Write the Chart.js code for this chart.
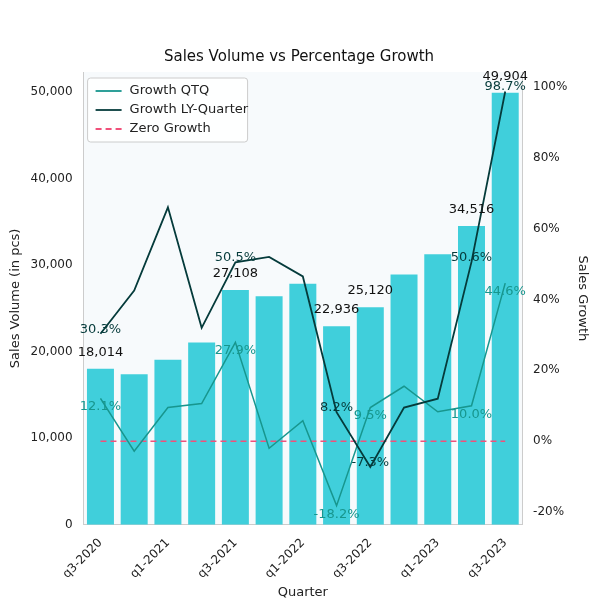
<!DOCTYPE html>
<html>
<head>
<script src="https://cdn.jsdelivr.net/npm/chart.js@4"></script>
<style>
  body { margin: 0; background: #fff; }
  #wrap { width: 600px; height: 600px; }
</style>
</head>
<body>
<div id="wrap"><canvas id="c"></canvas></div>
<script>
const quarters = ['q3-2020','q4-2020','q1-2021','q2-2021','q3-2021','q4-2021','q1-2022','q2-2022','q3-2022','q4-2022','q1-2023','q2-2023','q3-2023'];
const salesVolume = [18014, 17400, 19050, 21050, 27108, 26400, 27850, 22936, 25120, 28900, 31250, 34516, 49904];
const growthQtq = [12.1, -2.8, 9.5, 10.6, 27.9, -2.0, 5.8, -18.2, 9.5, 15.5, 8.3, 10.0, 44.6];
const growthLy = [30.3, 42.5, 66.0, 32.0, 50.5, 52.0, 46.5, 8.2, -7.3, 9.5, 12.0, 50.6, 98.7];
const labelled = [0, 4, 7, 8, 11, 12];

const font = "'DejaVu Sans', sans-serif";
Chart.defaults.font.family = font;
Chart.defaults.color = '#222';

// plot background + value labels
const extras = {
    id: 'extras',
    beforeDraw(chart) {
        const a = chart.chartArea, ctx = chart.ctx;
        ctx.save();
        ctx.fillStyle = '#f7fafc';
        ctx.fillRect(a.left, a.top, a.right - a.left, a.bottom - a.top);
        ctx.restore();
    },
    afterDatasetsDraw(chart) {
        const ctx = chart.ctx;
        ctx.save();
        ctx.font = '13px ' + font;
        ctx.textAlign = 'center';
        const bars = chart.getDatasetMeta(0).data;
        const qtq = chart.getDatasetMeta(1).data;
        const ly = chart.getDatasetMeta(2).data;
        labelled.forEach(i => {
            ctx.fillStyle = '#111';
            ctx.textBaseline = 'bottom';
            ctx.fillText(salesVolume[i].toLocaleString('en-US'), bars[i].x, bars[i].y - 10);
            ctx.fillStyle = '#053b3b';
            ctx.fillText(growthLy[i].toFixed(1) + '%', ly[i].x, ly[i].y + 2);
            ctx.fillStyle = '#17968e';
            ctx.textBaseline = 'top';
            ctx.fillText(growthQtq[i].toFixed(1) + '%', qtq[i].x, qtq[i].y + 2);
        });
        ctx.restore();
    }
};

new Chart(document.getElementById('c'), {
    data: {
        labels: quarters,
        datasets: [
            { type: 'bar', label: 'Sales Volume', data: salesVolume, backgroundColor: '#40cfdb', yAxisID: 'y', barPercentage: 0.8, categoryPercentage: 1.0, order: 3 },
            { type: 'line', label: 'Growth QTQ', data: growthQtq, borderColor: '#17968e', backgroundColor: '#17968e', borderWidth: 1.5, pointRadius: 0, tension: 0, yAxisID: 'y1', order: 1 },
            { type: 'line', label: 'Growth LY-Quarter', data: growthLy, borderColor: '#053b3b', backgroundColor: '#053b3b', borderWidth: 1.8, pointRadius: 0, tension: 0, yAxisID: 'y1', order: 0 },
            { type: 'line', label: 'Zero Growth', data: quarters.map(() => 0), borderColor: '#f0507a', borderDash: [6, 4], borderWidth: 1.5, pointRadius: 0, yAxisID: 'y1', order: 2 }
        ]
    },
    options: {
        responsive: true, maintainAspectRatio: false, animation: false,
        layout: { padding: { top: 10, right: 6, left: 4 } },
        plugins: {
            title: { display: true, text: 'Sales Volume vs Percentage Growth', font: { size: 15, weight: 'normal' }, color: '#111', padding: { top: 38, bottom: 6 } },
            tooltip: { enabled: false },
            legend: { display: false }
        },
        scales: {
            x: {
                offset: true,
                grid: { display: false },
                border: { color: '#ccc' },
                ticks: { autoSkip: false, maxRotation: 45, minRotation: 45, font: { size: 12 },
                    callback(v, i) { return i % 2 === 0 ? quarters[i] : ''; } },
                title: { display: true, text: 'Quarter', font: { size: 13 }, padding: 0 }
            },
            y: {
                position: 'left', min: 0, max: 52300,
                grid: { display: false },
                border: { color: '#ccc' },
                ticks: { stepSize: 10000, font: { size: 12 } },
                afterBuildTicks(s) { s.ticks = [0, 10000, 20000, 30000, 40000, 50000].map(v => ({ value: v })); },
                title: { display: true, text: 'Sales Volume (in pcs)', font: { size: 13 } }
            },
            y1: {
                position: 'right', min: -23.6, max: 104.2,
                grid: { display: false },
                border: { color: '#ccc' },
                afterBuildTicks(s) { s.ticks = [-20, 0, 20, 40, 60, 80, 100].map(v => ({ value: v })); },
                ticks: { font: { size: 12 }, callback: v => v + '%' },
                title: { display: true, text: 'Sales Growth', font: { size: 13 } }
            }
        }
    },
    plugins: [extras, {
        id: 'legendBox',
        afterDraw(chart) {
            const a = chart.chartArea, ctx = chart.ctx;
            const items = [['Growth QTQ', '#17968e', []], ['Growth LY-Quarter', '#053b3b', []], ['Zero Growth', '#f0507a', [6, 4]]];
            const x = a.left + 4, y = a.top + 6;
            ctx.save();
            ctx.fillStyle = 'rgba(255,255,255,0.85)';
            ctx.strokeStyle = '#ccc';
            ctx.lineWidth = 1;
            ctx.beginPath(); ctx.roundRect(x, y, 160, 64, 3); ctx.fill(); ctx.stroke();
            ctx.font = '13px ' + font;
            ctx.textBaseline = 'middle';
            items.forEach((it, i) => {
                const yy = y + 13 + i * 19;
                ctx.strokeStyle = it[1]; ctx.lineWidth = 1.8; ctx.setLineDash(it[2]);
                ctx.beginPath(); ctx.moveTo(x + 8, yy); ctx.lineTo(x + 34, yy); ctx.stroke();
                ctx.setLineDash([]);
                ctx.fillStyle = '#222';
                ctx.fillText(it[0], x + 42, yy);
            });
            ctx.restore();
        }
    }]
});
</script>
</body>
</html>
